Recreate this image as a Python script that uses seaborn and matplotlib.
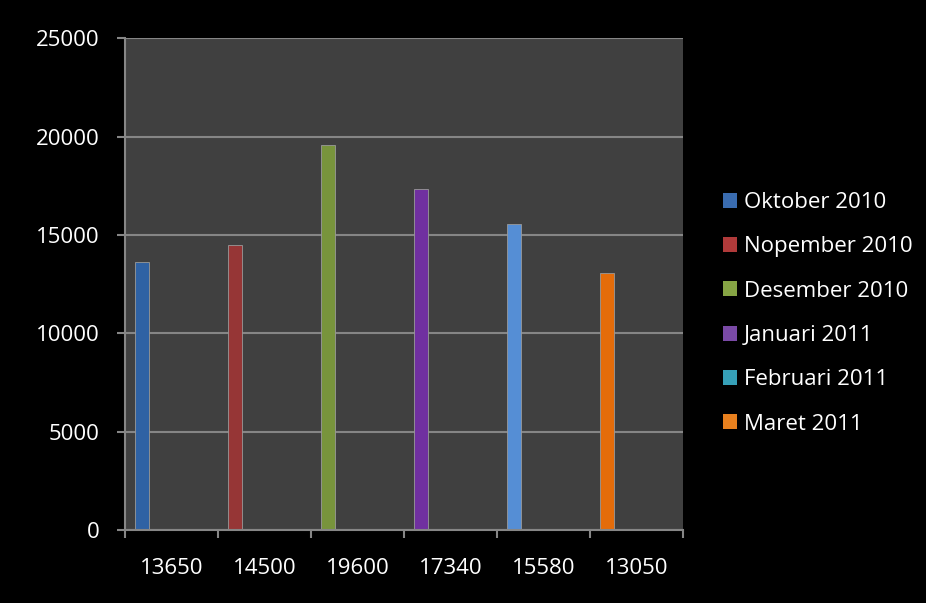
import numpy as np
import pandas as pd
import matplotlib
matplotlib.use("Agg")
import matplotlib.pyplot as plt
import seaborn as sns
from matplotlib.patches import Patch

months = ["Oktober 2010", "Nopember 2010", "Desember 2010", "Januari 2011", "Februari 2011", "Maret 2011"]
values = [13650, 14500, 19600, 17340, 15580, 13050]
tick_labels = ["13650", "14500", "19600", "17340", "15580", "13050"]
bar_colors = ["#2F62A4", "#963636", "#78943C", "#7030A0", "#558ED5", "#E46C0A"]
legend_colors = ["#3A6CB0", "#B03A3A", "#86A444", "#7A4AA6", "#36A0B8", "#E8801E"]

sns.set_theme(style="dark")
plt.rcParams['font.family'] = ['Open Sans', 'DejaVu Sans']

fig = plt.figure(figsize=(9.26, 6.03), dpi=100, facecolor="black")
ax = fig.add_axes([125/926, 1 - 530/603, (683-125)/926, (530-38.4)/603])
ax.set_facecolor("#404040")

offset = 0.18
df = pd.DataFrame({"pos": np.arange(len(values)) + offset, "value": values, "month": months})
sns.barplot(data=df, x="pos", y="value", hue="month", palette=bar_colors, native_scale=True,
            dodge=False, width=0.15, legend=False, ax=ax, saturation=1,
            edgecolor="#9a9a9a", linewidth=0.6)

ax.set_xlim(0, len(values))
ax.set_ylim(0, 25000)
ax.set_yticks(np.arange(0, 25001, 5000))
ax.set_xticks(np.arange(0, len(values) + 1))
ax.set_xticklabels([])
ax.set_xticks(np.arange(len(values)) + 0.5, minor=True)
ax.set_xticklabels(tick_labels, minor=True)
ax.set_xlabel("")
ax.set_ylabel("")

ax.grid(axis="y", color="#868686", linewidth=1.5)
ax.grid(axis="x", visible=False)
ax.set_axisbelow(True)
for s in ["top", "right"]:
    ax.spines[s].set_visible(False)
for s in ["left", "bottom"]:
    ax.spines[s].set_visible(True)
    ax.spines[s].set_color("#868686")
    ax.spines[s].set_linewidth(1.5)

ax.tick_params(axis="x", which="major", length=6, width=1.5, color="#868686", direction="out", bottom=True)
ax.tick_params(axis="x", which="minor", length=0, pad=20, labelsize=16, labelcolor="white", bottom=True)
ax.tick_params(axis="y", length=6, width=1.5, color="#868686", direction="out", left=True,
               pad=12, labelsize=16, labelcolor="white")

handles = [Patch(facecolor=c, edgecolor="none") for c in legend_colors]
leg = fig.legend(handles, months, loc="upper left", bbox_to_anchor=(714/926, 1 - 183/603),
                 frameon=False, fontsize=16, labelcolor="white", handlelength=0.65,
                 handleheight=0.65, handletextpad=0.3, labelspacing=1.05, borderaxespad=0)

fig.savefig("out.png", dpi=100, facecolor="black")
